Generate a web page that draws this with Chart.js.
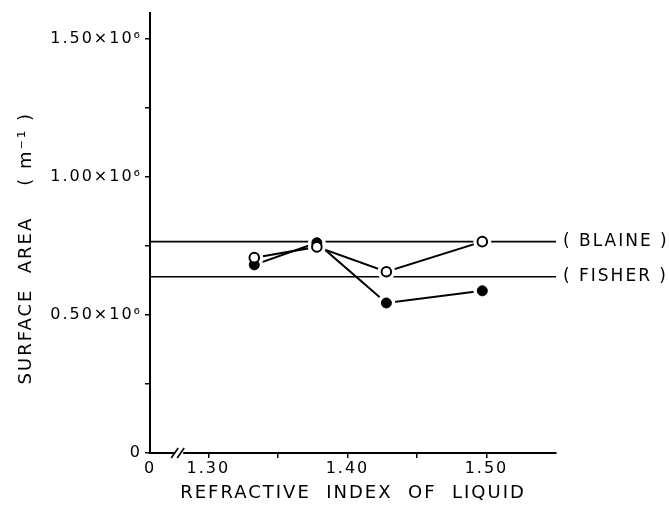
<!DOCTYPE html>
<html>
<head>
<meta charset="utf-8">
<script src="https://cdn.jsdelivr.net/npm/chart.js@4"></script>
<style>
  html, body { margin: 0; padding: 0; background: #fff; }
  #wrap { width: 669px; height: 514px; }
</style>
</head>
<body>
<div id="wrap"><canvas id="grafico" width="669" height="514"></canvas></div>
<script>
// refractive index of each liquid
const indices = [1.333, 1.378, 1.428, 1.497];
// open circles and filled circles (m^-1)
const abertos = [0.707e6, 0.746e6, 0.656e6, 0.765e6];
const cheios = [0.681e6, 0.761e6, 0.543e6, 0.587e6];
// reference methods
const blaine = 0.765e6;
const fisher = 0.638e6;

// axes
const xMin = 1.258, xMax = 1.55;
const xTicks = [1.258, 1.30, 1.35, 1.40, 1.45, 1.50];
const yMax = 1.594e6;
const yTicks = [0, 0.25e6, 0.5e6, 0.75e6, 1.0e6, 1.25e6, 1.5e6];

const pares = arr => indices.map((x, i) => ({ x: x, y: arr[i] }));
const fonte = '"DejaVu Sans", sans-serif';

// linhas de referencia
const refLinha = v => [{ x: xMin, y: v }, { x: xMax, y: v }];

// espaco entre letras: eixo x antes dos dados, eixo y depois
const espacamento = {
  id: "espacamento",
  beforeDraw(chart) { chart.ctx.letterSpacing = "2px"; },
  afterDatasetsDraw(chart) { chart.ctx.letterSpacing = "1.5px"; },
  afterDraw(chart) {
    const ctx = chart.ctx;
    const xs = chart.scales.x, ys = chart.scales.y;
    // rotulos BLAINE / FISHER
    ctx.save();
    ctx.letterSpacing = "2px";
    ctx.fillStyle = "#000";
    ctx.font = "17px " + fonte;
    ctx.textBaseline = "middle";
    ctx.textAlign = "left";
    ctx.fillText("( BLAINE )", chart.chartArea.right + 7, ys.getPixelForValue(blaine));
    ctx.fillText("( FISHER )", chart.chartArea.right + 7, ys.getPixelForValue(fisher));
    // quebra do eixo x
    ctx.letterSpacing = "0px";
    const bx = xs.getPixelForValue((xMin + 1.30) / 2);
    const by = ys.getPixelForValue(0);
    ctx.fillStyle = "#fff";
    ctx.fillRect(bx - 4, by - 3, 8, 6);
    ctx.strokeStyle = "#000";
    ctx.lineWidth = 1.6;
    ctx.beginPath();
    ctx.moveTo(bx - 8, by + 5); ctx.lineTo(bx - 1, by - 5);
    ctx.moveTo(bx - 2, by + 5); ctx.lineTo(bx + 5, by - 5);
    ctx.stroke();
    ctx.restore();
    ctx.letterSpacing = "0px";
  }
};

new Chart(document.getElementById("grafico").getContext("2d"), {
  type: "scatter",
  data: {
    datasets: [
      { data: pares(abertos), showLine: true, pointRadius: 0, borderColor: "#000", borderWidth: 2, order: 3 },
      { data: pares(cheios), showLine: true, pointRadius: 0, borderColor: "#000", borderWidth: 2, order: 3 },
      { data: pares(abertos), pointRadius: 9, pointBackgroundColor: "#fff", pointBorderWidth: 0, order: 2 },
      { data: pares(cheios), pointRadius: 9, pointBackgroundColor: "#fff", pointBorderWidth: 0, order: 2 },
      { data: pares(abertos), pointRadius: 4.8, pointBackgroundColor: "#fff", pointBorderColor: "#000", pointBorderWidth: 2, order: 1 },
      { data: pares(cheios), pointRadius: 5, pointBackgroundColor: "#000", pointBorderColor: "#000", pointBorderWidth: 1, order: 1 },
      { data: refLinha(blaine), showLine: true, pointRadius: 0, borderColor: "#000", borderWidth: 1.6, order: 5 },
      { data: refLinha(fisher), showLine: true, pointRadius: 0, borderColor: "#000", borderWidth: 1.6, order: 5 }
    ]
  },
  options: {
    responsive: false,
    animation: false,
    events: [],
    layout: { padding: { top: 12, right: 113, left: 0, bottom: 0 } },
    plugins: { legend: { display: false }, tooltip: { enabled: false } },
    scales: {
      x: {
        type: "linear",
        min: xMin,
        max: xMax,
        afterBuildTicks: s => { s.ticks = xTicks.map(v => ({ value: v })); },
        afterFit: s => { s.height = 61; },
        border: { color: "#000", width: 2 },
        grid: {
          drawOnChartArea: false,
          tickLength: 5,
          color: c => (c.index === 0 ? "rgba(0,0,0,0)" : "#000"),
          lineWidth: 1.5
        },
        ticks: {
          color: "#000",
          font: { family: fonte, size: 16 },
          padding: 1,
          maxRotation: 0,
          autoSkip: false,
          callback: v => {
            if (v === xMin) return "0";
            if (v === 1.35 || v === 1.45) return "";
            return v.toFixed(2);
          }
        },
        title: {
          display: true,
          text: "REFRACTIVE  INDEX  OF  LIQUID",
          color: "#000",
          font: { family: fonte, size: 18 },
          padding: { top: 0, bottom: 10 }
        }
      },
      y: {
        min: 0,
        max: yMax,
        z: 1,
        afterBuildTicks: s => { s.ticks = yTicks.map(v => ({ value: v })); },
        afterFit: s => { s.width = 150; },
        border: { color: "#000", width: 2 },
        grid: { drawOnChartArea: false, tickLength: 5, color: "#000", lineWidth: 1.5 },
        ticks: {
          color: "#000",
          font: { family: fonte, size: 16 },
          padding: 3,
          callback: v => {
            if (v === 0) return "0";
            if (v % 0.5e6 !== 0) return "";
            return (v / 1e6).toFixed(2) + "×10⁶";
          }
        },
        title: {
          display: true,
          text: "SURFACE  AREA    ( m⁻¹ )    ",
          color: "#000",
          font: { family: fonte, size: 18 },
          padding: { top: 16, bottom: 0 }
        }
      }
    }
  },
  plugins: [espacamento]
});
</script>
</body>
</html>
